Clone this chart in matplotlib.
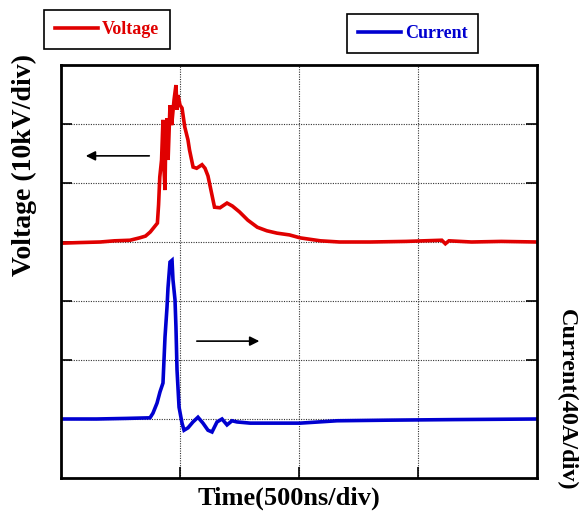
import matplotlib
matplotlib.use("Agg")
import matplotlib.pyplot as plt

# time in divisions (500 ns/div), traces in divisions
t_volt = [0.00, 0.15, 0.33, 0.45, 0.58, 0.66, 0.71, 0.75, 0.81, 0.82, 0.83, 0.845,
          0.857, 0.866, 0.874, 0.88, 0.89, 0.90, 0.916, 0.93, 0.95, 0.966, 0.975,
          0.983, 1.00, 1.017, 1.04, 1.067, 1.08, 1.11, 1.14, 1.185, 1.21, 1.235,
          1.26, 1.29, 1.336, 1.395, 1.44, 1.50, 1.57, 1.65, 1.73, 1.815, 1.92,
          2.01, 2.18, 2.34, 2.60, 2.90, 3.20, 3.23, 3.26, 3.45, 3.70, 4.00]
volt = [3.98, 3.99, 4.00, 4.02, 4.03, 4.07, 4.10, 4.17, 4.32, 4.63, 5.10, 5.39,
        6.07, 5.22, 4.88, 5.73, 6.10, 5.39, 6.32, 5.98, 6.41, 6.66, 6.24,
        6.49, 6.32, 6.27, 5.95, 5.73, 5.56, 5.27, 5.25, 5.31, 5.25, 5.12,
        4.88, 4.59, 4.58, 4.66, 4.61, 4.51, 4.37, 4.25, 4.19, 4.15, 4.12,
        4.07, 4.02, 4.00, 4.00, 4.01, 4.03, 3.97, 4.02, 4.00, 4.01, 4.00]

t_curr = [0.00, 0.30, 0.55, 0.748, 0.773, 0.807, 0.832, 0.857, 0.874, 0.891,
          0.899, 0.916, 0.933, 0.941, 0.958, 0.966, 0.975, 0.992, 1.017, 1.034,
          1.067, 1.109, 1.151, 1.193, 1.235, 1.269, 1.311, 1.353, 1.395, 1.437,
          1.479, 1.59, 2.01, 2.32, 2.74, 3.30, 4.00]
curr = [1.00, 1.00, 1.01, 1.02, 1.10, 1.27, 1.46, 1.61, 2.39, 2.90,
        3.22, 3.66, 3.69, 3.36, 3.02, 2.56, 1.83, 1.20, 0.93, 0.81,
        0.85, 0.95, 1.03, 0.93, 0.81, 0.78, 0.95, 1.00, 0.90, 0.97,
        0.95, 0.93, 0.93, 0.97, 0.98, 0.99, 1.00]

plt.rcParams["font.family"] = ["Liberation Serif", "DejaVu Serif"]
plt.rcParams["font.weight"] = "bold"

fig = plt.figure(figsize=(5.82, 5.11), dpi=100)
ax = fig.add_axes([61 / 582, 1 - 478 / 511, 476 / 582, 413 / 511])

lv, = ax.plot(t_volt, volt, color="#e00000", lw=2.6, solid_joinstyle="miter")
lc, = ax.plot(t_curr, curr, color="#0000d0", lw=2.6, solid_joinstyle="miter")

ax.set_xlim(0, 4)
ax.set_ylim(0, 7)
ax.set_xticks([1, 2, 3])
ax.set_yticks([1, 2, 3, 4, 5, 6])
ax.tick_params(direction="in", length=8, width=1.2, labelleft=False,
               labelbottom=False, right=True, top=False)
ax.grid(True, ls=(0, (1, 1.2)), color="#333333", lw=0.8)
for s in ax.spines.values():
    s.set_linewidth(2)

# direction arrows
ax.annotate("", xy=(0.185, 5.46), xytext=(0.765, 5.46),
            arrowprops=dict(arrowstyle="-|>", color="black", lw=1.2,
                            mutation_scale=14))
ax.annotate("", xy=(1.69, 2.32), xytext=(1.118, 2.32),
            arrowprops=dict(arrowstyle="-|>", color="black", lw=1.2,
                            mutation_scale=14))

fig.text(24 / 582, 1 - 165 / 511, "Voltage (10kV/div)", rotation=90,
         ha="center", va="center", fontsize=20, fontweight="bold")
fig.text(566 / 582, 1 - 400 / 511, "Current(40A/div)", rotation=-90,
         ha="center", va="center", fontsize=17.5, fontweight="bold")
fig.text(289 / 582, 1 - 498 / 511, "Time(500ns/div)", ha="center",
         va="center", fontsize=19, fontweight="bold")

leg1 = ax.legend([lv], ["Voltage"], loc="upper left",
                 bbox_to_anchor=(44 / 582, 1 - 10 / 511),
                 bbox_transform=fig.transFigure, borderaxespad=0,
                 fancybox=False, edgecolor="black", framealpha=1,
                 handlelength=2.4, handletextpad=0.2, borderpad=0.6,
                 labelcolor="#e00000", prop=dict(size=13, weight="bold"))
leg1.get_frame().set_linewidth(1.2)
ax.add_artist(leg1)
leg2 = ax.legend([lc], ["Current"], loc="upper left",
                 bbox_to_anchor=(347 / 582, 1 - 14 / 511),
                 bbox_transform=fig.transFigure, borderaxespad=0,
                 fancybox=False, edgecolor="black", framealpha=1,
                 handlelength=2.4, handletextpad=0.2, borderpad=0.6,
                 labelcolor="#0000d0", prop=dict(size=13, weight="bold"))
leg2.get_frame().set_linewidth(1.2)

fig.savefig("out.png", dpi=100)
